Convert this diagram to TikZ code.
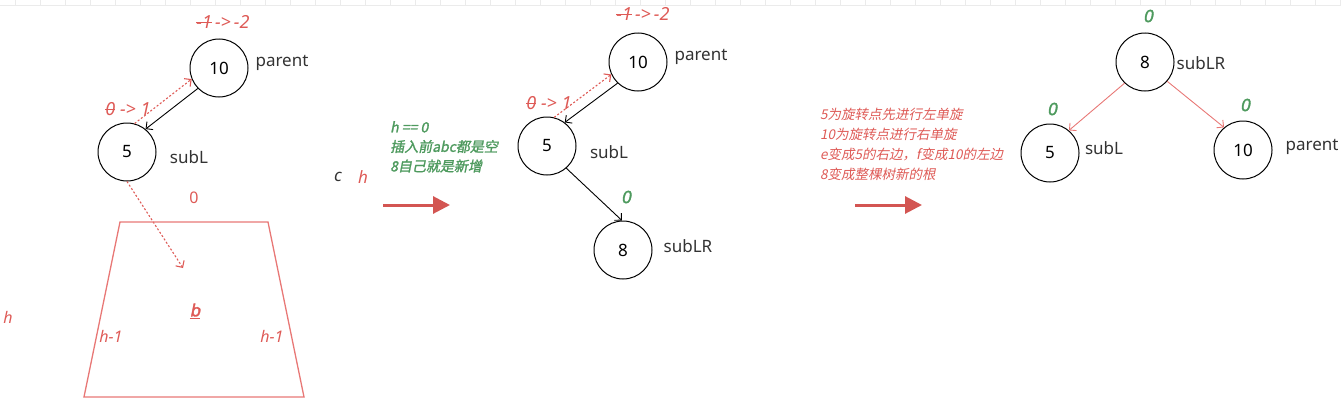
\documentclass[tikz,border=0pt]{standalone}
\usepackage{fontspec}
\setmainfont{Noto Sans}
\newfontfamily\cjk{Noto Sans CJK SC}[FakeSlant=0.2]
\newfontfamily\cjkb{Noto Sans CJK SC}[FakeSlant=0.2,FakeBold=1.5]
\newfontfamily\zerofont{Noto Sans}[FakeSlant=0.2,FakeBold=2]
\usetikzlibrary{arrows.meta}
\definecolor{tred}{RGB}{222,90,86}
\definecolor{tgreen}{RGB}{78,154,94}
\definecolor{tline}{RGB}{232,120,118}
\newcommand{\strk}[1]{\sbox0{#1}\rlap{\rule[0.3em]{\wd0}{0.7pt}}#1}
\tikzstyle{tnode} = [circle, draw, line width=1pt, minimum size=58pt, inner sep=0pt, font=\fontsize{17}{19}\selectfont]
\tikzstyle{tag} = [font=\fontsize{17}{19}\selectfont, text=black!80]
\tikzstyle{bf} = [font=\fontsize{16}{19}\selectfont\itshape, text=tred]
\tikzstyle{bal} = [font=\fontsize{18}{19}\selectfont\itshape, text=tred]
\tikzstyle{zero} = [font=\fontsize{17}{19}\selectfont\zerofont, text=tgreen]
\tikzstyle{link} = [-{Straight Barb[length=5pt,width=10pt]}, line width=0.9pt]
\tikzstyle{back} = [-{Straight Barb[length=5pt,width=10pt]}, line width=1.1pt, tred, dash pattern=on 2pt off 2pt]
\tikzstyle{big} = [-{Triangle[length=17pt,width=17pt]}, line width=3pt, tred!95!black]

\begin{document}
\begin{tikzpicture}[x=1pt,y=-1pt]
\useasboundingbox (0,0) rectangle (1341,415);
% faint ruler on top
\draw[black!8] (0,5) -- (1341,5);
\foreach \x in {15,40,...,1340} \draw[black!8] (\x,0) -- (\x,5);

% before: the subtree
\node[tnode] (p1) at (219,68) {10};
\node[tnode] (l1) at (127,152) {5};
\node[tag] (p1t) at (282,63) {parent};
\node[tag] (l1t) at (189,157) {subL};
\node[bal] (p1b) at (223,22) {\strk{-1}\,->\,-2};
\node[bal] (l1b) at (128,109) {\strk{0} -> 1};
\draw[link] (p1.224) -- (l1.51);
\draw[back] (l1.75) -- (p1.202);
\coordinate (b1) at (183,268);
\draw[back] (l1.270) -- (b1);
\draw[tline, line width=1.3pt] (120,222) -- (268,222) -- (304,397) -- (84,397) -- cycle;
\node[bf, font=\fontsize{16}{19}\selectfont] (z1) at (194,198) {0};
\node[bf, font=\fontsize{17}{19}\selectfont\zerofont] (b) at (195,311) {\underline{b}};
\node[bf] (hl) at (111,336) {h-1};
\node[bf] (hr) at (272,336) {h-1};
\node[bf] (h) at (8,317) {h};

% first step
\node[tag, font=\fontsize{17}{19}\selectfont\itshape] (c) at (338,177) {c};
\node[bf, font=\fontsize{17}{19}\selectfont\itshape] (h2) at (363,177) {h};
\node[zero, font=\fontsize{14}{19.5}\selectfont, anchor=north west, align=left, inner sep=0pt] (note1) at (390,121) {\cjkb h == 0\\ \cjkb 插入前abc都是空\\ \cjkb 8自己就是新增};
\coordinate (a1) at (383,205);
\coordinate (a2) at (450,205);
\draw[big] (a1) -- (a2);

% after inserting 8
\node[tnode] (p2) at (638,62) {10};
\node[tnode] (l2) at (547,146) {5};
\node[tnode] (lr2) at (623,250) {8};
\node[tag] (p2t) at (701,57) {parent};
\node[tag] (l2t) at (609,152) {subL};
\node[tag] (lr2t) at (688,246) {subLR};
\node[bal] (p2b) at (643,14) {\strk{-1}\,->\,-2};
\node[bal] (l2b) at (549,103) {\strk{0} -> 1};
\node[zero] (z2) at (626,197) {0};
\draw[link] (p2.226) -- (l2.53);
\draw[back] (l2.76) -- (p2.205);
\draw[link] (l2.-49) -- (lr2.92);

% second step
\node[font=\fontsize{13.5}{20}\selectfont\cjk, text=tred, anchor=north west, align=left, inner sep=0pt] (note2) at (820,108) {5为旋转点先进行左单旋\\10为旋转点进行右单旋\\e变成5的右边，f变成10的左边\\8变成整棵树新的根};
\coordinate (a3) at (855,205);
\coordinate (a4) at (922,205);
\draw[big] (a3) -- (a4);

% after the double rotation
\node[tnode] (lr3) at (1145,62) {8};
\node[tnode] (l3) at (1050,153) {5};
\node[tnode] (p3) at (1243,150) {10};
\node[tag] (lr3t) at (1201,63) {subLR};
\node[tag] (l3t) at (1104,148) {subL};
\node[tag] (p3t) at (1312,147) {parent};
\node[zero] (z3) at (1148,16) {0};
\node[zero] (z4) at (1052,109) {0};
\node[zero] (z5) at (1245,105) {0};
\draw[link, tline] (lr3.226) -- (l3.50);
\draw[link, tline] (lr3.-41) -- (p3.130);
\end{tikzpicture}
\end{document}
